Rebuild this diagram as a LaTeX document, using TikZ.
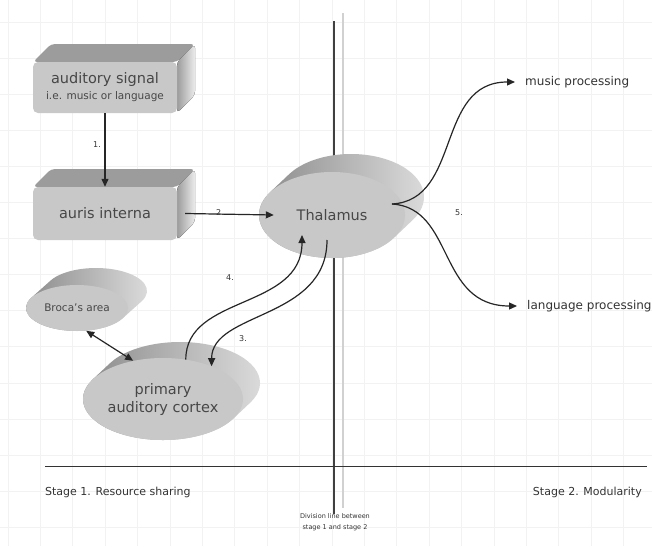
\documentclass[tikz,border=0pt]{standalone}
\usepackage{fontspec}
\setmainfont{DejaVu Sans}
\usetikzlibrary{arrows.meta,shapes.geometric,calc}
\definecolor{facegray}{HTML}{C8C8C8}
\definecolor{topgray}{HTML}{9C9C9C}
\definecolor{inkgray}{HTML}{474747}
\definecolor{gridgray}{HTML}{F2F2F2}
\tikzset{
  boxfront/.style={fill=facegray, rounded corners=5pt, text=inkgray, align=center, inner sep=0pt},
  boxtop/.style={fill=topgray, rounded corners=4pt},
  boxside/.style={left color=topgray, right color=white!85!gray, rounded corners=4pt},
  oval/.style={shape=ellipse, fill=facegray, inner sep=0pt, text=inkgray, align=center},
  rim/.style={left color=gray!95, right color=gray!25},
  flow/.style={-{Triangle[length=8pt,width=7pt]}, line width=1.2pt, black!85},
  twoway/.style={{Triangle[length=8pt,width=7pt]}-{Triangle[length=8pt,width=7pt]}, line width=1.2pt, black!85},
  steplabel/.style={font=\fontsize{8}{9}\selectfont, text=black!80},
  outlabel/.style={font=\fontsize{12}{14}\selectfont, text=black!80, anchor=west, inner xsep=10pt, inner ysep=2pt},
  stagelabel/.style={font=\fontsize{11}{13}\selectfont, text=black!80, inner sep=0pt},
}
\begin{document}
\begin{tikzpicture}[x=1pt, y=-1pt]
\fill[white] (0,0) rectangle (652,546);
\useasboundingbox (0,0) rectangle (652,546);
\foreach \gx in {0,...,19} \draw[gridgray, line width=1pt] ({8+32.4*\gx},0) -- ({8+32.4*\gx},546);
\foreach \gy in {0,...,14} \draw[gridgray, line width=1pt] (0,{22+36.1*\gy}) -- (652,{22+36.1*\gy});

\draw[black!75, line width=1.3pt] (334,21) -- (334,514);
\draw[black!18, line width=1.3pt] (343,13) -- (343,508);
\draw[black!80, line width=0.9pt] (45,466) -- (647,466);

\fill[boxtop] (33,62) -- (51,44) -- (195,44) -- (177,62) -- cycle;
\fill[boxside] (177,62) -- (195,44) -- (195,95) -- (177,113) -- cycle;
\node[boxfront, minimum width=144pt, minimum height=51pt, font=\fontsize{10.5}{16}\selectfont] (sig) at (105,87.5) {{\fontsize{14.5}{16}\selectfont auditory signal}\\i.e. music or language};
\fill[boxtop] (33,187) -- (51,169) -- (195,169) -- (177,187) -- cycle;
\fill[boxside] (177,187) -- (195,169) -- (195,222) -- (177,240) -- cycle;
\node[boxfront, minimum width=144pt, minimum height=53pt, font=\fontsize{14.5}{16}\selectfont] (aur) at (105,213.5) {auris interna};

\foreach \cx/\cy/\a/\b/\dx/\dy in {332/215/73/43/19/18, 77/308/51/23/19/17, 163/399/80/41/17/16}{
  \pgfmathsetmacro\tang{atan(\b*\dx/(\a*\dy))}
  \shade[rim] ($(\cx,\cy)+({\a*cos(\tang)},{\b*sin(\tang)})$) -- ++(\dx,-\dy)
    arc[start angle=\tang, end angle=\tang-180, x radius=\a, y radius=\b] -- ++(-\dx,\dy)
    arc[start angle=\tang+180, end angle=\tang, x radius=\a, y radius=\b] -- cycle;
}
\node[oval, minimum width=146pt, minimum height=86pt, font=\fontsize{14.5}{16}\selectfont] (tha) at (332,215) {Thalamus};
\node[oval, minimum width=102pt, minimum height=46pt, font=\fontsize{10.5}{12}\selectfont] (bro) at (77,308) {Broca’s area};
\node[oval, minimum width=160pt, minimum height=82pt, font=\fontsize{14.5}{18}\selectfont] (cor) at (163,399) {primary\\auditory cortex};

\node[outlabel] (mus) at (515,82) {music processing};
\node[outlabel] (lan) at (517,306) {language processing};
\coordinate (fork) at ([xshift=60pt,yshift=11pt]tha.center);

\draw[flow] (sig.south) -- (aur.north);
\draw[flow] ([xshift=8pt]aur.east) -- ([xshift=15pt]tha.west);
\draw[flow] ([xshift=-5pt,yshift=-25pt]tha.center) .. controls +(0,80) and +(0,-55) .. (cor.34);
\draw[flow] (cor.60) .. controls +(0,-65) and +(0,75) .. ([xshift=-30pt,yshift=-20pt]tha.center);
\draw[twoway] (bro.-68) -- (cor.128);
\draw[flow] (fork) .. controls +(70,-4) and +(-80,0) .. (mus.west);
\draw[flow] (fork) .. controls +(63,4) and +(-80,0) .. (lan.west);

\node[steplabel] (n1) at (97,145) {1.};
\node[steplabel] (n2) at (220,213) {2.};
\node[steplabel] (n3) at (243,339) {3.};
\node[steplabel] (n4) at (230,278) {4.};
\node[steplabel] (n5) at (459,213) {5.};

\node[stagelabel, anchor=west] (st1) at (45,492) {Stage 1. Resource sharing};
\node[stagelabel, anchor=east] (st2) at (642,492) {Stage 2. Modularity};
\node[font=\fontsize{6.5}{11}\selectfont, align=center, text=black!80, inner sep=0pt] (divtxt) at (335,522) {Division line between\\stage 1 and stage 2};
\end{tikzpicture}
\end{document}
